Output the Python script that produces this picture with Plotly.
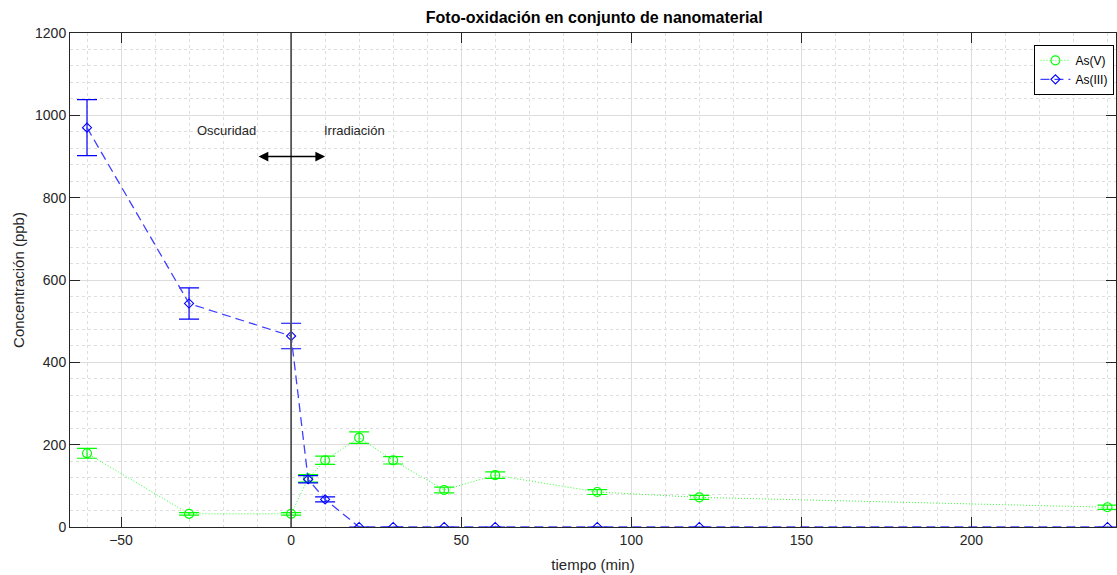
import plotly.graph_objects as go

# Data
tiempo = [-60, -30, 0, 5, 10, 20, 30, 45, 60, 90, 120, 240]
as_v = [179, 32, 32, 118, 162, 217, 162, 90, 126, 85, 72, 48]
as_v_err = [12, 3, 3, 9, 10, 14, 9, 7, 8, 6, 5, 5]
as_iii = [970, 543, 464, 116, 67, 0, 0, 0, 0, 0, 0, 0]
as_iii_err = [68, 38, 31, 9, 6, 0, 0, 0, 0, 0, 0, 0]

title = "Foto-oxidación en conjunto de nanomaterial"
xlabel = "tiempo (min)"
ylabel = "Concentración (ppb)"

FONT = "Liberation Sans, Arial, Helvetica, sans-serif"
AXC = "#262626"

fig = go.Figure()

fig.add_trace(go.Scatter(
    x=tiempo, y=as_v, name="As(V)", mode="lines+markers",
    line=dict(color="#33ff33", width=1, dash="1px,2px"),
    marker=dict(symbol="circle-open", size=9, color="#00ff00", line=dict(width=1.1, color="#00ff00")),
    error_y=dict(type="data", array=as_v_err, visible=True, color="#00ff00", thickness=1.2, width=10),
))
fig.add_trace(go.Scatter(
    x=tiempo, y=as_iii, name="As(III)", mode="lines+markers",
    line=dict(color="#4040ff", width=1.3, dash="9px,5px"),
    marker=dict(symbol="diamond-open", size=7, color="#0000ff", line=dict(width=1.1, color="#0000ff")),
    error_y=dict(type="data", array=as_iii_err, visible=True, color="#0000ff", thickness=1.2, width=10),
))

# vertical line at t=0
fig.add_shape(type="line", x0=0, x1=0, y0=0, y1=1, xref="x", yref="paper",
              line=dict(color="#555555", width=1.8), layer="above")

# texts and double arrow
fig.add_annotation(x=-19, y=963, text="Oscuridad", showarrow=False,
                   font=dict(family=FONT, size=13, color=AXC))
fig.add_annotation(x=18.5, y=963, text="Irradiación", showarrow=False,
                   font=dict(family=FONT, size=13, color=AXC))
fig.add_annotation(x=10, y=900, ax=-10, ay=900, xref="x", yref="y", axref="x", ayref="y",
                   text="", showarrow=True, arrowhead=2, arrowside="end+start",
                   arrowsize=1.3, arrowwidth=1.5, arrowcolor="black")

fig.update_layout(
    width=1117, height=575,
    margin=dict(l=70, r=1, t=33, b=48, autoexpand=False),
    paper_bgcolor="white", plot_bgcolor="white",
    font=dict(family=FONT, size=14, color=AXC),
    title=dict(text="<b>" + title + "</b>", x=0.532, xanchor="center", y=1 - 17 / 575, yref="container",
               yanchor="middle", font=dict(family=FONT, size=16, color="black")),
    legend=dict(x=0.9985, y=0.976, xanchor="right", yanchor="top",
                bgcolor="white", bordercolor="black", borderwidth=1,
                font=dict(family=FONT, size=12, color="black"),
                tracegroupgap=0, itemwidth=30),
    showlegend=True,
)

fig.update_xaxes(
    range=[-65, 242.5], tick0=0, dtick=50, zeroline=False, automargin=False,
    showline=True, linecolor=AXC, linewidth=1, mirror="ticks",
    ticks="inside", ticklen=10, tickcolor=AXC,
    showgrid=True, gridcolor="#dcdcdc", gridwidth=1,
    minor=dict(dtick=10, tick0=0, showgrid=True, gridcolor="#dedede", griddash="dot", gridwidth=1, ticks=""),
    title=dict(text=xlabel, font=dict(size=15, color=AXC), standoff=12),
    tickfont=dict(size=14, color=AXC),
)
fig.update_yaxes(
    range=[0, 1200], tick0=0, dtick=200, zeroline=False, automargin=False,
    showline=True, linecolor=AXC, linewidth=1, mirror="ticks",
    ticks="inside", ticklen=10, tickcolor=AXC,
    showgrid=True, gridcolor="#dcdcdc", gridwidth=1,
    minor=dict(dtick=40, tick0=0, showgrid=True, gridcolor="#dedede", griddash="dot", gridwidth=1, ticks=""),
    title=dict(text=ylabel, font=dict(size=15, color=AXC), standoff=6),
    tickfont=dict(size=14, color=AXC),
)

fig.write_html("out.html", config={"displayModeBar": False},
               post_script="document.body.style.margin='0';")
